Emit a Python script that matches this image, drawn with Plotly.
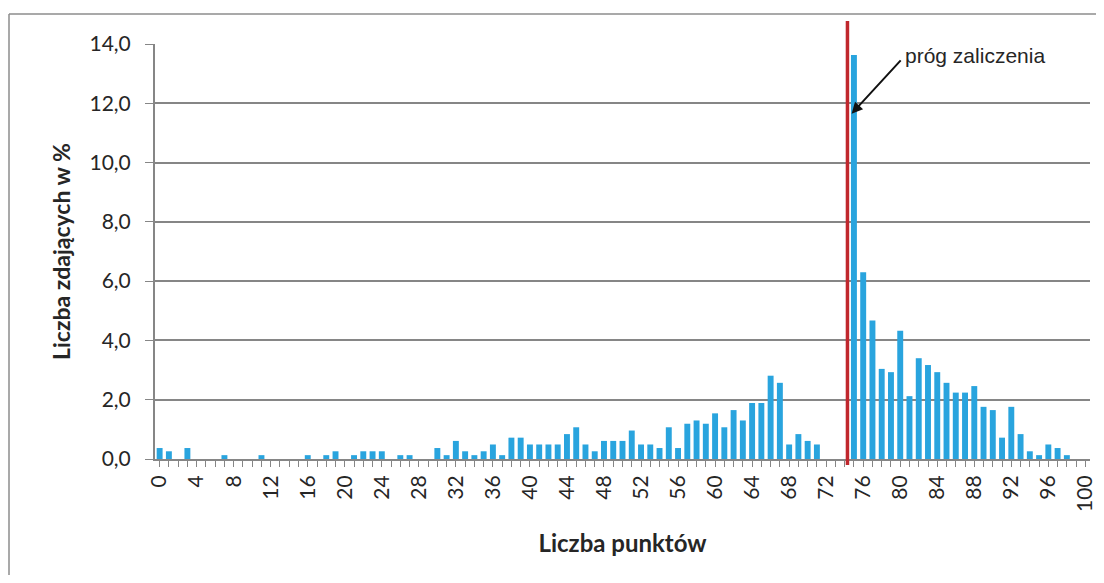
import plotly.graph_objects as go

points = list(range(0, 101))
percent = [
    0.37, 0.26, 0.00, 0.37, 0.00, 0.00, 0.00, 0.13, 0.00, 0.00,   # 0-9
    0.00, 0.13, 0.00, 0.00, 0.00, 0.00, 0.13, 0.00, 0.13, 0.26,   # 10-19
    0.00, 0.13, 0.26, 0.26, 0.26, 0.00, 0.13, 0.13, 0.00, 0.00,   # 20-29
    0.37, 0.13, 0.61, 0.26, 0.13, 0.26, 0.49, 0.13, 0.72, 0.72,   # 30-39
    0.49, 0.49, 0.49, 0.49, 0.84, 1.07, 0.49, 0.26, 0.61, 0.61,   # 40-49
    0.61, 0.96, 0.49, 0.49, 0.37, 1.07, 0.37, 1.19, 1.30, 1.19,   # 50-59
    1.54, 1.07, 1.65, 1.30, 1.89, 1.89, 2.81, 2.57, 0.49, 0.84,   # 60-69
    0.61, 0.49, 0.00, 0.00, 0.00, 13.63, 6.30, 4.67, 3.04, 2.93,  # 70-79
    4.33, 2.12, 3.40, 3.17, 2.93, 2.57, 2.24, 2.24, 2.46, 1.76,   # 80-89
    1.65, 0.72, 1.76, 0.84, 0.26, 0.13, 0.49, 0.37, 0.13, 0.00,   # 90-99
    0.00,                                                          # 100
]
threshold = 74.3
threshold_label = "próg zaliczenia"
x_title = "Liczba punktów"
y_title = "Liczba zdających w %"

fig = go.Figure()
fig.add_trace(go.Bar(
    x=points, y=percent, width=0.64,
    marker=dict(color="#29A4DE", line=dict(width=0)),
    showlegend=False, hoverinfo="x+y",
))

GRID = "#868686"
FONT = "Lato, 'Open Sans', sans-serif"

# page has an 8px body margin; figure sized to fit the 1104x583 window
W, H = 1088, 567
L, T, R, B = 147, 36, 6, 116
PW, PH = W - L - R, H - T - B  # 935 x 415

fig.update_layout(
    width=W, height=H,
    margin=dict(l=L, r=R, t=T, b=B, autoexpand=False),
    paper_bgcolor="white", plot_bgcolor="white",
    separators=", ",
    xaxis=dict(
        range=[-0.5, 100.5], tickmode="linear", tick0=0, dtick=4,
        tickangle=-90, ticks="outside", ticklen=6, tickcolor=GRID, tickwidth=1.3,
        ticklabeloverflow="allow",
        showline=True, linecolor=GRID, linewidth=2, showgrid=False, zeroline=False,
        minor=dict(dtick=1, tick0=0, ticks="outside", ticklen=6, tickcolor=GRID, tickwidth=1.3),
        tickfont=dict(family=FONT, size=21, color="#262626"),
        title=dict(text="<b>" + x_title + "</b>", font=dict(family=FONT, size=24, color="#262626"), standoff=24),
    ),
    yaxis=dict(
        range=[0, 14], dtick=2, tickformat=".1f",
        ticks="outside", ticklen=8, tickcolor=GRID, tickwidth=1.3,
        ticklabelstandoff=10,
        showline=True, linecolor=GRID, linewidth=2,
        showgrid=True, gridcolor=GRID, gridwidth=1.6, zeroline=False,
        tickfont=dict(family=FONT, size=21, color="#262626"),
        title=dict(text="<b>" + y_title + "</b>", font=dict(family=FONT, size=23, color="#262626"), standoff=12),
    ),
)

# outer chart border (left and top visible)
bx = -146 / PW
by = 445 / PH
fig.add_shape(type="line", xref="paper", yref="paper",
              x0=bx, x1=1.05, y0=by, y1=by, line=dict(color="#8C8C8C", width=1.5))
fig.add_shape(type="line", xref="paper", yref="paper",
              x0=bx, x1=bx, y0=by, y1=-0.4, line=dict(color="#8C8C8C", width=1.5))

# threshold line
fig.add_shape(type="line", xref="x", yref="paper",
              x0=threshold, x1=threshold, y0=-6 / PH, y1=438 / PH,
              line=dict(color="#C0272D", width=3.5))

# arrow
fig.add_annotation(
    x=74.75, y=11.65, xref="x", yref="y",
    text="", showarrow=True, arrowhead=2, arrowsize=1.1, arrowwidth=2, arrowcolor="#111",
    ax=80.2, ay=13.5, axref="x", ayref="y",
)
# label
fig.add_annotation(
    x=80.3, y=404 / PH, xref="x", yref="paper", xanchor="left", yanchor="middle",
    text=threshold_label, showarrow=False,
    font=dict(family="'Liberation Sans', Arial, sans-serif", size=21, color="#262626"),
)

fig.write_html("out.html")
